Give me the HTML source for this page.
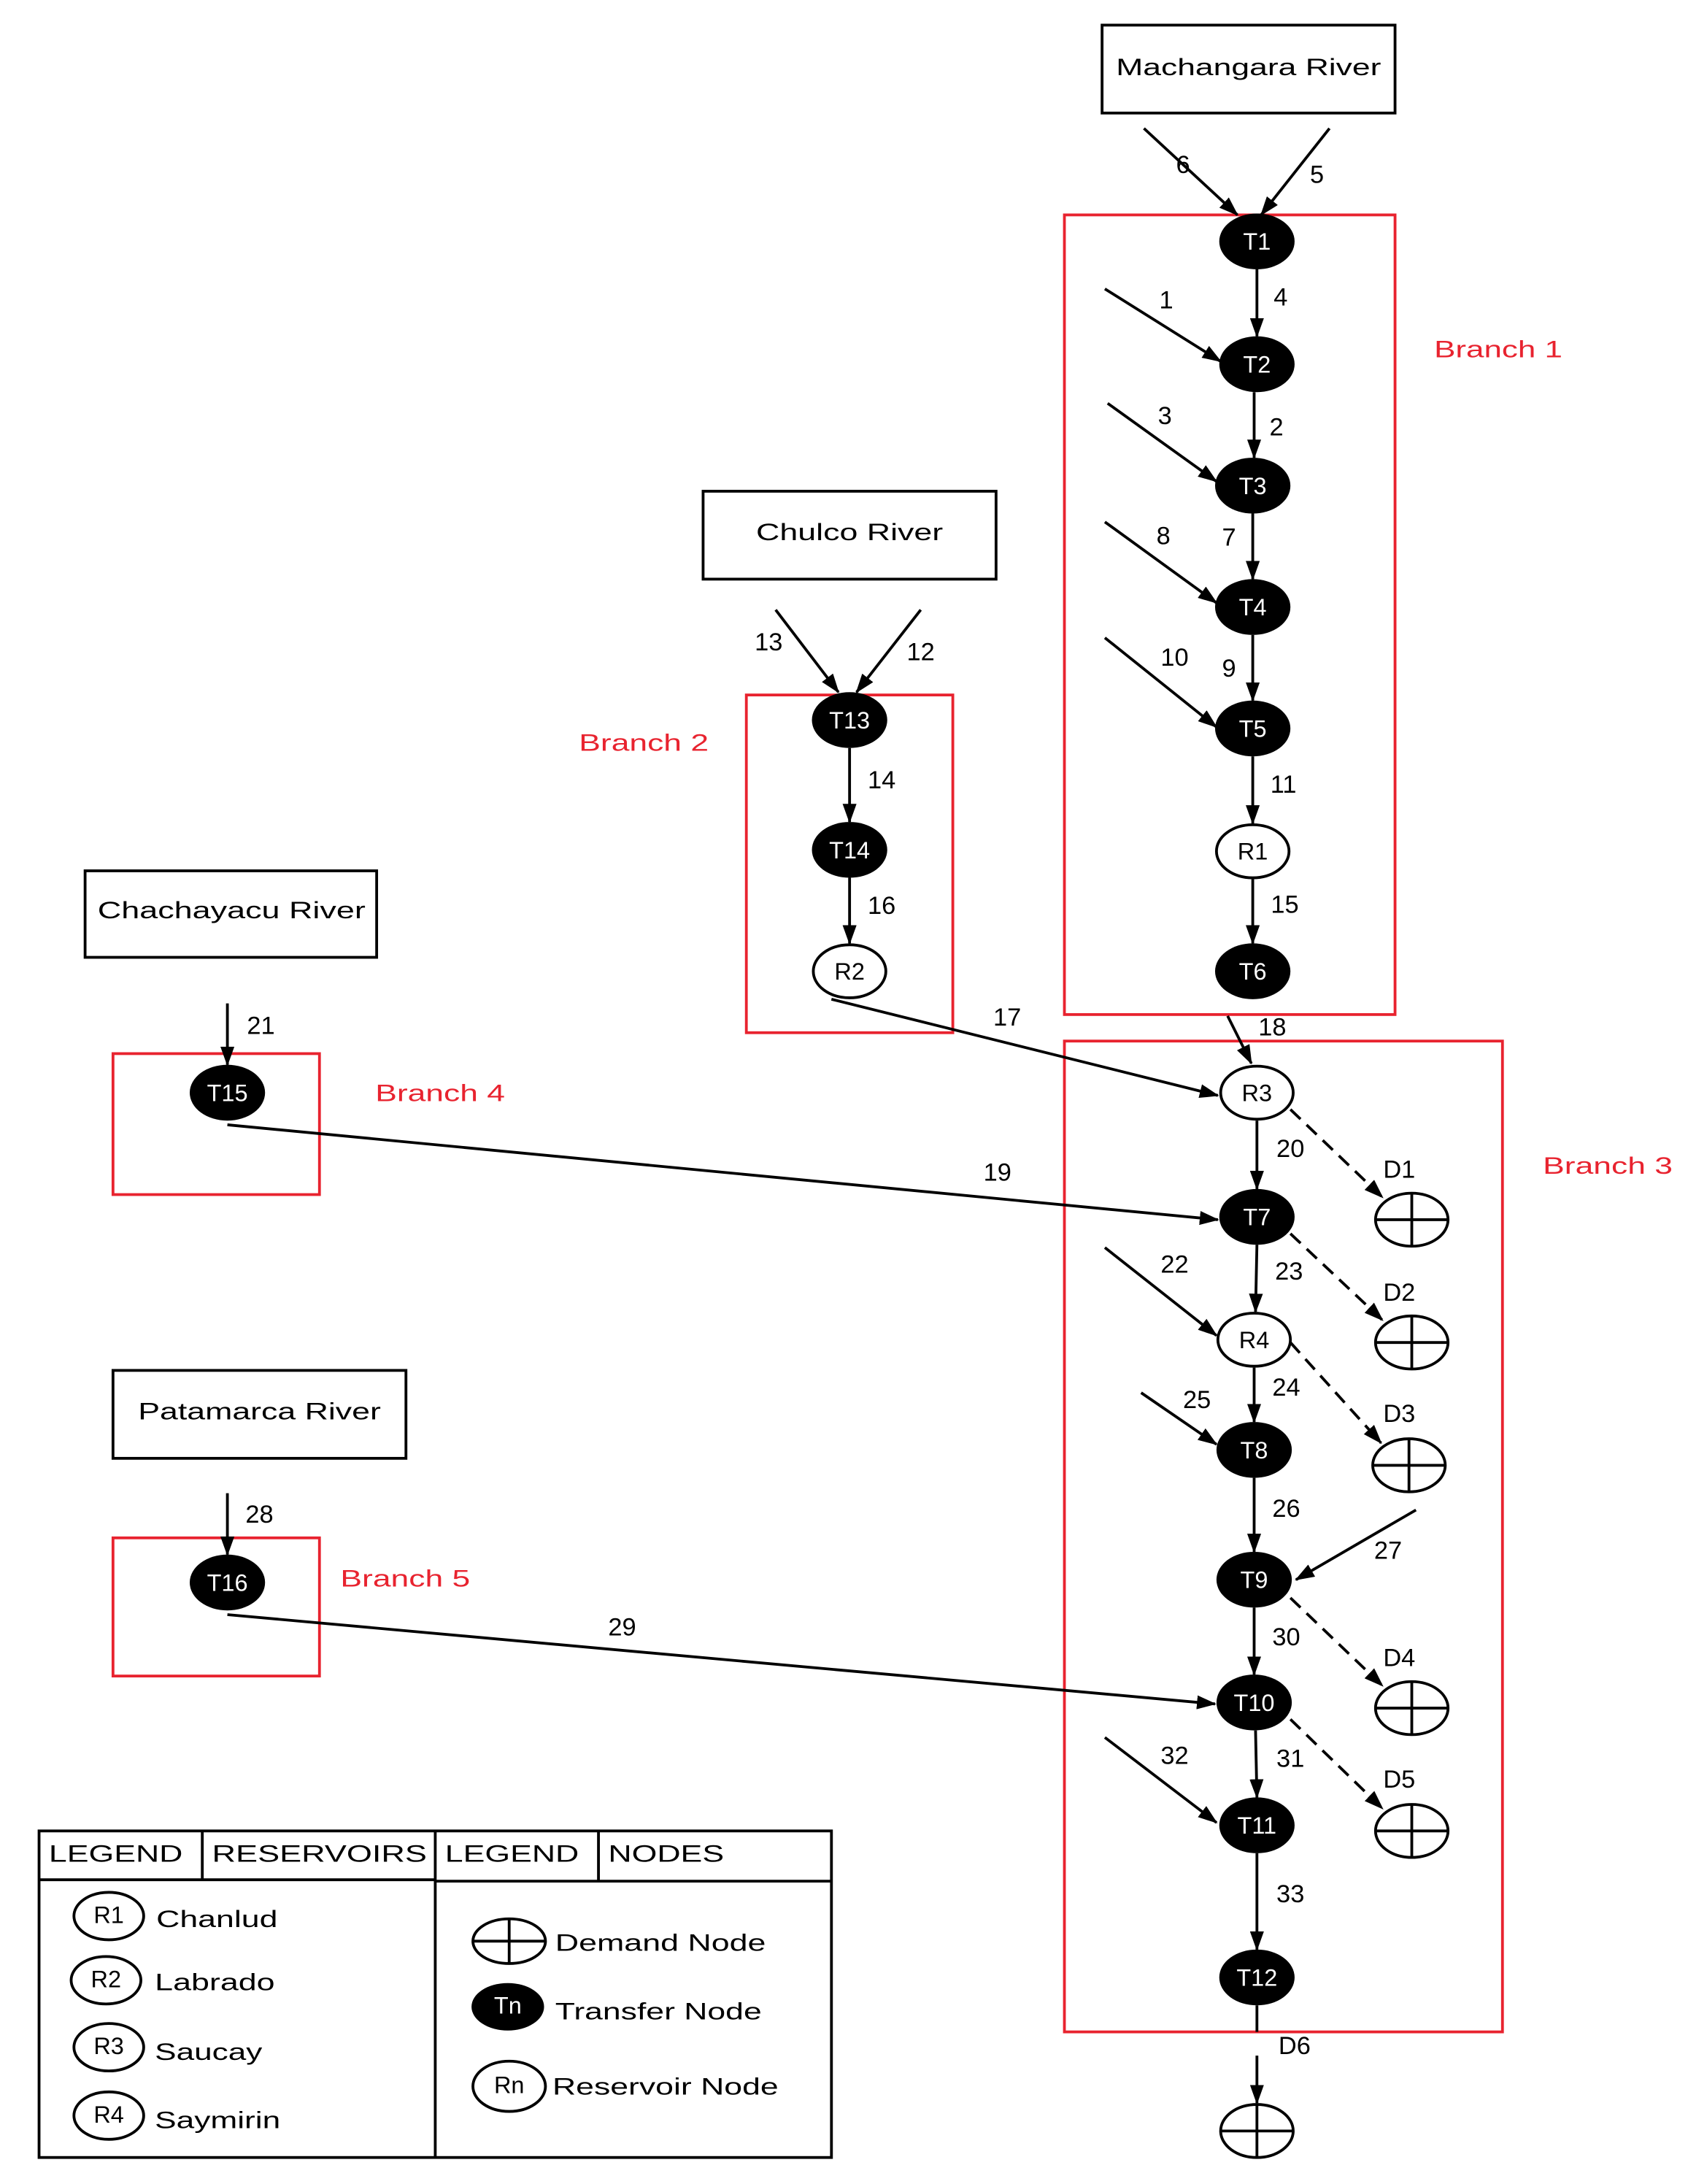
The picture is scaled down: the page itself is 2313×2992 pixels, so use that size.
<!DOCTYPE html>
<html><head><meta charset="utf-8"><style>
html,body{margin:0;padding:0;background:#fff;}
svg{display:block;}
text{font-family:"Liberation Sans",sans-serif;}
</style></head><body>
<svg width="2313" height="2992" viewBox="0 0 1210 1565" preserveAspectRatio="none" xmlns="http://www.w3.org/2000/svg">
<defs>
<marker id="a" markerWidth="14" markerHeight="10" refX="13" refY="5" orient="auto" markerUnits="userSpaceOnUse">
<path d="M0,0 L14,5 L0,10 z" fill="#000"/></marker>
</defs>
<rect width="1210" height="1565" fill="#fff"/>
<g fill="none" stroke="#e8232f" stroke-width="2">
<rect x="763" y="154" width="237" height="573"/>
<rect x="535" y="498" width="148" height="242"/>
<rect x="763" y="746" width="314" height="710"/>
<rect x="81" y="755" width="148" height="101"/>
<rect x="81" y="1102" width="148" height="99"/>
</g>
<g fill="#e8232f" font-size="17" lengthAdjust="spacingAndGlyphs">
<text x="1028" y="256" textLength="92" lengthAdjust="spacingAndGlyphs">Branch 1</text>
<text x="415" y="538" textLength="93" lengthAdjust="spacingAndGlyphs">Branch 2</text>
<text x="1106" y="841" textLength="93" lengthAdjust="spacingAndGlyphs">Branch 3</text>
<text x="269" y="789" textLength="93" lengthAdjust="spacingAndGlyphs">Branch 4</text>
<text x="244" y="1137" textLength="93" lengthAdjust="spacingAndGlyphs">Branch 5</text>
</g>
<g fill="none" stroke="#000" stroke-width="2">
<rect x="790" y="18" width="210" height="63"/>
<rect x="504" y="352" width="210" height="63"/>
<rect x="61" y="624" width="209" height="62"/>
<rect x="81" y="982" width="210" height="63"/>
</g>
<g font-size="17">
<text x="800" y="54" textLength="190" lengthAdjust="spacingAndGlyphs">Machangara River</text>
<text x="542" y="387" textLength="134" lengthAdjust="spacingAndGlyphs">Chulco River</text>
<text x="70" y="658" textLength="192" lengthAdjust="spacingAndGlyphs">Chachayacu River</text>
<text x="99" y="1017" textLength="174" lengthAdjust="spacingAndGlyphs">Patamarca River</text>
</g>
<g stroke="#000" stroke-width="2" fill="none" marker-end="url(#a)">
<line x1="820" y1="92" x2="887" y2="154"/>
<line x1="953" y1="92" x2="904" y2="154"/>
<line x1="901" y1="193" x2="901" y2="241"/>
<line x1="792" y1="207" x2="875" y2="259"/>
<line x1="899" y1="281" x2="899" y2="328"/>
<line x1="794" y1="289" x2="872" y2="345"/>
<line x1="898" y1="368" x2="898" y2="415"/>
<line x1="792" y1="374" x2="872" y2="432"/>
<line x1="898" y1="455" x2="898" y2="502"/>
<line x1="792" y1="457" x2="872" y2="521"/>
<line x1="898" y1="542" x2="898" y2="590"/>
<line x1="898" y1="630" x2="898" y2="676"/>
<line x1="556" y1="437" x2="601" y2="496"/>
<line x1="660" y1="437" x2="614" y2="496"/>
<line x1="609" y1="536" x2="609" y2="589"/>
<line x1="609" y1="629" x2="609" y2="676"/>
<line x1="163" y1="719" x2="163" y2="763"/>
<line x1="163" y1="1070" x2="163" y2="1114"/>
<line x1="880" y1="728" x2="897" y2="762"/>
<line x1="596" y1="716" x2="873" y2="785"/>
<line x1="163" y1="806" x2="873" y2="874"/>
<line x1="901" y1="803" x2="901" y2="852"/>
<line x1="901" y1="892" x2="900" y2="940"/>
<line x1="792" y1="894" x2="872" y2="957"/>
<line x1="899" y1="980" x2="899" y2="1019"/>
<line x1="818" y1="998" x2="872" y2="1035"/>
<line x1="899" y1="1059" x2="899" y2="1112"/>
<line x1="1015" y1="1082" x2="929" y2="1132"/>
<line x1="899" y1="1152" x2="899" y2="1200"/>
<line x1="163" y1="1157" x2="871" y2="1221"/>
<line x1="900" y1="1240" x2="901" y2="1288"/>
<line x1="792" y1="1245" x2="872" y2="1306"/>
<line x1="901" y1="1328" x2="901" y2="1397"/>
<line x1="901" y1="1473" x2="901" y2="1507"/>
</g>
<line x1="901" y1="1437" x2="901" y2="1456" stroke="#000" stroke-width="2"/>
<g stroke="#000" stroke-width="2" fill="none" stroke-dasharray="10,6" marker-end="url(#a)">
<line x1="925" y1="795" x2="991" y2="858"/>
<line x1="925" y1="884" x2="991" y2="946"/>
<line x1="925" y1="962" x2="990" y2="1034"/>
<line x1="925" y1="1145" x2="991" y2="1208"/>
<line x1="925" y1="1232" x2="991" y2="1296"/>
</g>
<g fill="#000">
<ellipse cx="901" cy="173" rx="27" ry="20"/>
<ellipse cx="901" cy="261" rx="27" ry="20"/>
<ellipse cx="898" cy="348" rx="27" ry="20"/>
<ellipse cx="898" cy="435" rx="27" ry="20"/>
<ellipse cx="898" cy="522" rx="27" ry="20"/>
<ellipse cx="898" cy="696" rx="27" ry="20"/>
<ellipse cx="609" cy="516" rx="27" ry="20"/>
<ellipse cx="609" cy="609" rx="27" ry="20"/>
<ellipse cx="163" cy="783" rx="27" ry="20"/>
<ellipse cx="163" cy="1134" rx="27" ry="20"/>
<ellipse cx="901" cy="872" rx="27" ry="20"/>
<ellipse cx="899" cy="1039" rx="27" ry="20"/>
<ellipse cx="899" cy="1132" rx="27" ry="20"/>
<ellipse cx="899" cy="1220" rx="27" ry="20"/>
<ellipse cx="901" cy="1308" rx="27" ry="20"/>
<ellipse cx="901" cy="1417" rx="27" ry="20"/>
<ellipse cx="364" cy="1438" rx="26" ry="17"/>
</g>
<g fill="#fff" font-size="17" text-anchor="middle">
<text x="901" y="179">T1</text><text x="901" y="267">T2</text><text x="898" y="354">T3</text>
<text x="898" y="441">T4</text><text x="898" y="528">T5</text><text x="898" y="702">T6</text>
<text x="609" y="522">T13</text><text x="609" y="615">T14</text>
<text x="163" y="789">T15</text><text x="163" y="1140">T16</text>
<text x="901" y="878">T7</text><text x="899" y="1045">T8</text><text x="899" y="1138">T9</text>
<text x="899" y="1226">T10</text><text x="901" y="1314">T11</text><text x="901" y="1423">T12</text>
<text x="364" y="1443">Tn</text>
</g>
<g fill="#fff" stroke="#000" stroke-width="2">
<ellipse cx="898" cy="610" rx="26" ry="19"/>
<ellipse cx="609" cy="696" rx="26" ry="19"/>
<ellipse cx="901" cy="783" rx="26" ry="19"/>
<ellipse cx="899" cy="960" rx="26" ry="19"/>
<ellipse cx="78" cy="1373" rx="25" ry="17"/>
<ellipse cx="76" cy="1419" rx="25" ry="17"/>
<ellipse cx="78" cy="1467" rx="25" ry="17"/>
<ellipse cx="78" cy="1516" rx="25" ry="17"/>
<ellipse cx="365" cy="1495" rx="26" ry="18"/>
</g>
<g font-size="17" text-anchor="middle">
<text x="898" y="616">R1</text><text x="609" y="702">R2</text><text x="901" y="789">R3</text><text x="899" y="966">R4</text>
<text x="78" y="1378">R1</text><text x="76" y="1424">R2</text><text x="78" y="1472">R3</text><text x="78" y="1521">R4</text>
<text x="365" y="1500">Rn</text>
</g>
<g fill="#fff" stroke="#000" stroke-width="2">
<g transform="translate(1012,874)"><ellipse rx="26" ry="19"/><line x1="-26" x2="26"/><line y1="-19" y2="19"/></g>
<g transform="translate(1012,962)"><ellipse rx="26" ry="19"/><line x1="-26" x2="26"/><line y1="-19" y2="19"/></g>
<g transform="translate(1010,1050)"><ellipse rx="26" ry="19"/><line x1="-26" x2="26"/><line y1="-19" y2="19"/></g>
<g transform="translate(1012,1224)"><ellipse rx="26" ry="19"/><line x1="-26" x2="26"/><line y1="-19" y2="19"/></g>
<g transform="translate(1012,1312)"><ellipse rx="26" ry="19"/><line x1="-26" x2="26"/><line y1="-19" y2="19"/></g>
<g transform="translate(901,1527)"><ellipse rx="26" ry="19"/><line x1="-26" x2="26"/><line y1="-19" y2="19"/></g>
<g transform="translate(365,1391)"><ellipse rx="26" ry="16"/><line x1="-26" x2="26"/><line y1="-16" y2="16"/></g>
</g>
<g font-size="18" text-anchor="middle">
<text x="1003" y="844">D1</text><text x="1003" y="932">D2</text>
<text x="1003" y="1019">D3</text><text x="1003" y="1194">D4</text>
<text x="1003" y="1281">D5</text><text x="928" y="1472">D6</text>
</g>
<g font-size="18" text-anchor="middle">
<text x="848" y="124">6</text><text x="944" y="131">5</text>
<text x="918" y="219">4</text><text x="836" y="221">1</text>
<text x="835" y="304">3</text><text x="915" y="312">2</text>
<text x="834" y="390">8</text><text x="881" y="391">7</text>
<text x="842" y="477">10</text><text x="881" y="485">9</text>
<text x="920" y="568">11</text><text x="921" y="654">15</text>
<text x="551" y="466">13</text><text x="660" y="473">12</text>
<text x="632" y="565">14</text><text x="632" y="655">16</text>
<text x="187" y="741">21</text><text x="186" y="1091">28</text>
<text x="912" y="742">18</text><text x="722" y="735">17</text>
<text x="715" y="846">19</text><text x="925" y="829">20</text>
<text x="924" y="917">23</text><text x="842" y="912">22</text>
<text x="922" y="1000">24</text><text x="858" y="1009">25</text>
<text x="922" y="1087">26</text><text x="995" y="1117">27</text>
<text x="922" y="1179">30</text><text x="446" y="1172">29</text>
<text x="925" y="1266">31</text><text x="842" y="1264">32</text>
<text x="925" y="1363">33</text>
</g>
<g fill="none" stroke="#000" stroke-width="2">
<rect x="28" y="1312" width="568" height="234"/>
<line x1="28" y1="1347" x2="312" y2="1347"/>
<line x1="312" y1="1348" x2="596" y2="1348"/>
<line x1="145" y1="1312" x2="145" y2="1347"/>
<line x1="312" y1="1312" x2="312" y2="1546"/>
<line x1="429" y1="1312" x2="429" y2="1348"/>
</g>
<g font-size="17">
<text x="35" y="1334" textLength="96" lengthAdjust="spacingAndGlyphs">LEGEND</text>
<text x="152" y="1334" textLength="154" lengthAdjust="spacingAndGlyphs">RESERVOIRS</text>
<text x="319" y="1334" textLength="96" lengthAdjust="spacingAndGlyphs">LEGEND</text>
<text x="436" y="1334" textLength="83" lengthAdjust="spacingAndGlyphs">NODES</text>
<text x="112" y="1381" textLength="87" lengthAdjust="spacingAndGlyphs">Chanlud</text>
<text x="111" y="1426" textLength="86" lengthAdjust="spacingAndGlyphs">Labrado</text>
<text x="111" y="1476" textLength="77" lengthAdjust="spacingAndGlyphs">Saucay</text>
<text x="111" y="1525" textLength="90" lengthAdjust="spacingAndGlyphs">Saymirin</text>
<text x="398" y="1398" textLength="151" lengthAdjust="spacingAndGlyphs">Demand Node</text>
<text x="398" y="1447" textLength="148" lengthAdjust="spacingAndGlyphs">Transfer Node</text>
<text x="396" y="1501" textLength="162" lengthAdjust="spacingAndGlyphs">Reservoir Node</text>
</g>
</svg>
</body></html>
